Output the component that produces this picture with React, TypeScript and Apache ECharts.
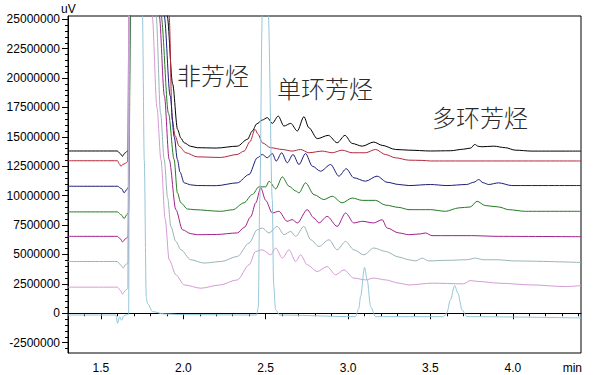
import React, { useEffect, useRef } from "react";
import * as echarts from "echarts";

// x: retention time (min), y: signal in millions of uV
const blackTrace: [number, number][] = [
  [1.3, 13.8], [1.6, 13.8], [1.615, 13.6], [1.631, 13.36], [1.645, 13.62], [1.66, 13.78], [1.668, 13.85],
  [1.678, 30], [1.69, 45], [1.86, 45], [1.902, 25.3], [1.935, 19.5], [1.965, 15.64], [1.985, 14.9], [2.005, 14.5],
  [2.045, 14.2], [2.085, 14.08], [2.2, 14.05], [2.328, 14.21], [2.389, 14.79], [2.419, 15.5],
  [2.445, 16.1], [2.479, 16.43], [2.51, 16.64], [2.54, 16.15], [2.576, 16.77], [2.611, 15.92],
  [2.652, 16.15], [2.692, 15.5], [2.732, 16.72], [2.762, 15.78], [2.813, 14.85], [2.88, 15.13],
  [2.934, 14.5], [2.981, 15.13], [3.025, 14.44], [3.086, 14.21], [3.156, 14.56], [3.207, 14.28],
  [3.288, 13.93], [3.369, 13.87], [3.5, 13.8], [3.62, 13.82], [3.7, 13.95], [3.745, 14.05],
  [3.769, 14.36], [3.79, 14.2], [3.813, 14.16], [3.884, 14.21], [3.955, 14.08], [4.015, 13.87],
  [4.116, 13.79], [4.414, 13.79],
];
const redTrace: [number, number][] = [
  [1.3, 12.97], [1.6, 12.97], [1.612, 12.7], [1.621, 12.5], [1.633, 12.65], [1.648, 12.75], [1.662, 12.9],
  [1.672, 30], [1.685, 45], [1.87, 45], [1.914, 25.3], [1.932, 16.5], [1.95, 15.1], [1.975, 14.2],
  [2.015, 13.65], [2.084, 13.3], [2.227, 13.25], [2.326, 13.5], [2.369, 13.79], [2.405, 14.6],
  [2.435, 15.64], [2.455, 15.2], [2.479, 14.5], [2.53, 14.08], [2.6, 13.93], [2.661, 13.79],
  [2.712, 13.93], [2.762, 13.65], [2.843, 13.79], [2.904, 13.65], [2.964, 13.87], [3.025, 13.65],
  [3.106, 13.65], [3.167, 13.93], [3.227, 13.5], [3.288, 13.22], [3.369, 13.02], [3.45, 13.0],
  [3.5, 12.95], [4.414, 12.95],
];
const navyTrace: [number, number][] = [
  [1.3, 10.8], [1.6, 10.8], [1.625, 10.6], [1.641, 10.24], [1.655, 10.5], [1.668, 10.75],
  [1.68, 30], [1.69, 45], [1.85, 45], [1.884, 25.3], [1.92, 18.5], [1.945, 15], [1.964, 13.08],
  [1.98, 12.0], [2.005, 11.09], [2.045, 10.92], [2.085, 10.86], [2.2, 10.85], [2.328, 11.09],
  [2.399, 11.8], [2.449, 13.22], [2.479, 13.5], [2.51, 13.22], [2.54, 13.59], [2.564, 12.94],
  [2.597, 13.65], [2.631, 12.8], [2.666, 13.5], [2.702, 12.65], [2.742, 13.59], [2.783, 12.51],
  [2.833, 12.08], [2.894, 12.65], [2.944, 11.66], [2.989, 12.29], [3.035, 11.52], [3.106, 11.23],
  [3.176, 11.66], [3.237, 11.14], [3.308, 10.95], [3.369, 10.86], [3.5, 10.95], [3.6, 10.86],
  [3.72, 10.95], [3.765, 11.15], [3.793, 11.37], [3.82, 11.1], [3.853, 10.95], [3.914, 11.09],
  [3.994, 10.86], [4.414, 10.86],
];
const greenTrace: [number, number][] = [
  [1.3, 8.62], [1.6, 8.62], [1.625, 8.35], [1.641, 8.05], [1.655, 8.35], [1.668, 8.6],
  [1.682, 30], [1.692, 45], [1.83, 45], [1.865, 25.3], [1.91, 17], [1.944, 13.08], [1.964, 10.24],
  [1.985, 9.39], [2.025, 8.87], [2.065, 8.81], [2.227, 8.67], [2.3, 8.8], [2.368, 9.39],
  [2.419, 10.1], [2.459, 10.75], [2.5, 10.75], [2.521, 11.23], [2.561, 10.58], [2.601, 11.6],
  [2.642, 10.8], [2.682, 10.4], [2.702, 10.24], [2.742, 11.09], [2.793, 10.09], [2.853, 9.67],
  [2.904, 9.95], [2.964, 9.39], [3.025, 9.8], [3.086, 9.6], [3.167, 9.6], [3.227, 9.2],
  [3.308, 9.0], [3.37, 8.81], [3.5, 8.81], [3.591, 8.67], [3.672, 8.96], [3.742, 9.04],
  [3.783, 9.52], [3.833, 9.16], [3.914, 9.04], [3.975, 8.81], [4.076, 8.67], [4.414, 8.67],
];
const purpleTrace: [number, number][] = [
  [1.3, 6.54], [1.6, 6.54], [1.62, 6.3], [1.631, 6.06], [1.65, 6.35], [1.665, 6.5],
  [1.676, 30], [1.688, 45], [1.82, 45], [1.854, 25.3], [1.885, 18.5], [1.914, 13.08],
  [1.955, 8.81], [1.995, 7.1], [2.045, 6.77], [2.085, 6.68], [2.2, 6.7], [2.328, 6.83],
  [2.37, 7.3], [2.409, 8.2], [2.44, 9.4], [2.47, 10.67], [2.5, 9.6], [2.54, 8.53], [2.58, 8.67],
  [2.63, 7.82], [2.661, 7.96], [2.692, 7.68], [2.752, 8.81], [2.793, 8.1], [2.823, 7.68],
  [2.873, 8.24], [2.934, 7.39], [2.985, 8.53], [3.035, 7.68], [3.086, 7.82], [3.156, 7.68],
  [3.207, 7.96], [3.237, 7.25], [3.308, 6.83], [3.369, 6.68], [3.44, 6.75], [3.47, 6.83],
  [3.51, 6.6], [3.75, 6.6], [3.914, 6.54], [4.414, 6.51],
];
const grayTrace: [number, number][] = [
  [1.3, 4.4], [1.6, 4.4], [1.62, 4.1], [1.635, 3.84], [1.65, 4.15], [1.665, 4.3],
  [1.672, 30], [1.685, 45], [1.8, 45], [1.835, 25.3], [1.862, 17], [1.884, 13.08], [1.905, 9.8],
  [1.924, 7.39], [1.955, 6.1], [1.985, 5.4], [2.045, 4.55], [2.126, 4.27], [2.23, 4.4],
  [2.328, 4.83], [2.399, 5.97], [2.449, 7.1], [2.479, 7.25], [2.52, 6.83], [2.57, 7.39],
  [2.611, 6.68], [2.652, 6.96], [2.682, 6.54], [2.732, 7.39], [2.773, 6.25], [2.823, 5.68],
  [2.884, 6.25], [2.934, 5.4], [2.985, 6.11], [3.035, 5.4], [3.096, 4.97], [3.156, 5.55],
  [3.227, 5.26], [3.308, 4.78], [3.369, 4.55], [3.41, 4.45], [3.449, 4.69], [3.49, 4.45],
  [3.6, 4.5], [3.72, 4.55], [3.773, 4.69], [3.82, 4.55], [3.914, 4.55], [4.0, 4.45], [4.414, 4.32],
];
const pinkTrace: [number, number][] = [
  [1.3, 2.22], [1.6, 2.22], [1.618, 1.95], [1.631, 1.62], [1.648, 1.95], [1.663, 2.1],
  [1.67, 30], [1.683, 45], [1.78, 45], [1.811, 25.3], [1.84, 17.5], [1.864, 13.08], [1.89, 8.0],
  [1.914, 4.55], [1.955, 3.27], [2.005, 2.41], [2.106, 2.13], [2.22, 2.4], [2.328, 2.84],
  [2.399, 4.12], [2.439, 5.26], [2.479, 5.4], [2.53, 4.97], [2.561, 5.55], [2.601, 4.69],
  [2.642, 5.4], [2.682, 4.4], [2.712, 4.97], [2.752, 4.12], [2.813, 3.55], [2.873, 3.97],
  [2.924, 3.27], [2.975, 3.69], [3.035, 2.99], [3.106, 2.84], [3.156, 2.99], [3.227, 2.84],
  [3.308, 2.56], [3.369, 2.41], [3.51, 2.56], [3.7, 2.5], [3.742, 2.78], [3.793, 2.7],
  [3.914, 2.56], [4.116, 2.41], [4.318, 2.27], [4.414, 2.35],
];
const lightBlueTrace: [number, number][] = [
  [1.3, -0.15], [1.59, -0.15], [1.601, -0.85], [1.613, -0.3], [1.625, -0.6], [1.64, -0.2],
  [1.66, -0.1], [1.668, -0.1], [1.675, 30], [1.69, 45], [1.74, 45], [1.752, 25.3], [1.763, 13],
  [1.775, 1.42], [1.782, 0.85], [1.813, 0.14], [1.884, -0.06], [2.0, -0.12], [2.445, -0.15],
  [2.455, 0.5], [2.464, 9.67], [2.479, 25.3], [2.497, 42], [2.516, 25.3], [2.54, 9.67],
  [2.548, 2.5], [2.56, 0.3], [2.585, -0.15], [3.045, -0.29], [3.065, 0.4], [3.076, 1.42],
  [3.1, 3.9], [3.116, 2.84], [3.137, 0.56], [3.167, -0.29], [3.58, -0.29], [3.6, 0.05],
  [3.621, 1.13], [3.647, 2.36], [3.667, 1.7], [3.692, 0.28], [3.722, -0.29], [4.414, -0.4],
];

const traces = [
  { name: "S1", data: blackTrace, color: "#000000" },
  { name: "S2", data: redTrace, color: "#b4283c" },
  { name: "S3", data: navyTrace, color: "#1c1c78" },
  { name: "S4", data: greenTrace, color: "#237a23" },
  { name: "S5", data: purpleTrace, color: "#a0208c" },
  { name: "S6", data: grayTrace, color: "#98b4b6" },
  { name: "S7", data: pinkTrace, color: "#d49ad4" },
  { name: "S8", data: lightBlueTrace, color: "#94c6d8" },
];

const xMajorTicks = [1.5, 2.0, 2.5, 3.0, 3.5, 4.0];
const yMajorTicks = [
  -2500000, 0, 2500000, 5000000, 7500000, 10000000, 12500000, 15000000, 17500000,
  20000000, 22500000, 25000000,
];
const annotations = [
  { text: "非芳烃", x: 177, y: 62 },
  { text: "单环芳烃", x: 277, y: 75 },
  { text: "多环芳烃", x: 432, y: 104 },
];

const X_MIN = 1.3;
const X_MAX = 4.414;
const Y_MIN = -3380000;
const Y_MAX = 25280000;
const UNIT = 1e6;

export default function App() {
  const ref = useRef<HTMLDivElement>(null);
  useEffect(() => {
    if (!ref.current) return;
    const chart = echarts.init(ref.current, null, { renderer: "svg" });
    const xMinor: number[] = [];
    for (let i = 13; i <= 44; i++) xMinor.push(i / 10);
    const yMinor: number[] = [];
    for (let i = -6; i <= 50; i++) yMinor.push(i * 500000);
    const labelFont = "Liberation Sans";
    chart.setOption({
      animation: false,
      backgroundColor: "#ffffff",
      grid: {
        left: 68, right: 30, top: 16, bottom: 22,
        show: true, borderColor: "#000", borderWidth: 1, backgroundColor: "transparent",
      },
      xAxis: [
        {
          type: "value", min: X_MIN, max: X_MAX, position: "bottom",
          axisLine: { show: true, lineStyle: { color: "#000", width: 1 } },
          axisTick: { show: true, customValues: xMajorTicks, length: 6, lineStyle: { color: "#000" } },
          axisLabel: {
            customValues: xMajorTicks, color: "#000", fontSize: 12, fontFamily: labelFont, margin: 9,
            formatter: (v: number) => v.toFixed(1),
          },
          splitLine: { show: false },
        },
        {
          type: "value", min: X_MIN, max: X_MAX, position: "bottom",
          axisLine: { show: false },
          axisTick: { show: true, customValues: xMinor, length: 3, lineStyle: { color: "#000" } },
          axisLabel: { show: false },
          splitLine: { show: false },
        },
      ],
      yAxis: [
        {
          type: "value", min: Y_MIN, max: Y_MAX, position: "left",
          axisLine: { show: true, lineStyle: { color: "#000", width: 1 } },
          axisTick: { show: true, customValues: yMajorTicks, length: 6, lineStyle: { color: "#000" } },
          axisLabel: {
            customValues: yMajorTicks, color: "#000", fontSize: 12, fontFamily: labelFont, margin: 8,
            formatter: (v: number) => String(Math.round(v)),
          },
          splitLine: { show: false },
        },
        {
          type: "value", min: Y_MIN, max: Y_MAX, position: "left",
          axisLine: { show: false },
          axisTick: { show: true, customValues: yMinor, length: 3, lineStyle: { color: "#000" } },
          axisLabel: { show: false },
          splitLine: { show: false },
        },
      ],
      graphic: [
        {
          type: "text", x: 61, y: 3,
          style: { text: "uV", fontSize: 12, fontFamily: labelFont, fill: "#000", verticalAlign: "top" },
        },
        {
          type: "text", x: 582, y: 362,
          style: { text: "min", fontSize: 12, fontFamily: labelFont, fill: "#000", align: "right", verticalAlign: "top" },
        },
        ...annotations.map((a) => ({
          type: "text", x: a.x, y: a.y, z: 100,
          style: {
            text: a.text, fontSize: 24, fontFamily: "Noto Sans CJK SC", fontWeight: 300, fill: "#2a2a2a",
            verticalAlign: "top",
          },
        })),
      ],
      series: traces.map((t) => ({
        type: "line",
        name: t.name,
        xAxisIndex: 0,
        yAxisIndex: 0,
        data: t.data.map(([x, y]) => [x, y * UNIT]),
        showSymbol: false,
        smooth: 0.3,
        smoothMonotone: "x",
        clip: true,
        lineStyle: { color: t.color, width: 1 },
        itemStyle: { color: t.color },
      })),
    });
    return () => chart.dispose();
  }, []);
  return (
    <div
      ref={ref}
      style={{ position: "fixed", left: 0, top: 0, width: 611, height: 375, background: "#fff" }}
    />
  );
}
